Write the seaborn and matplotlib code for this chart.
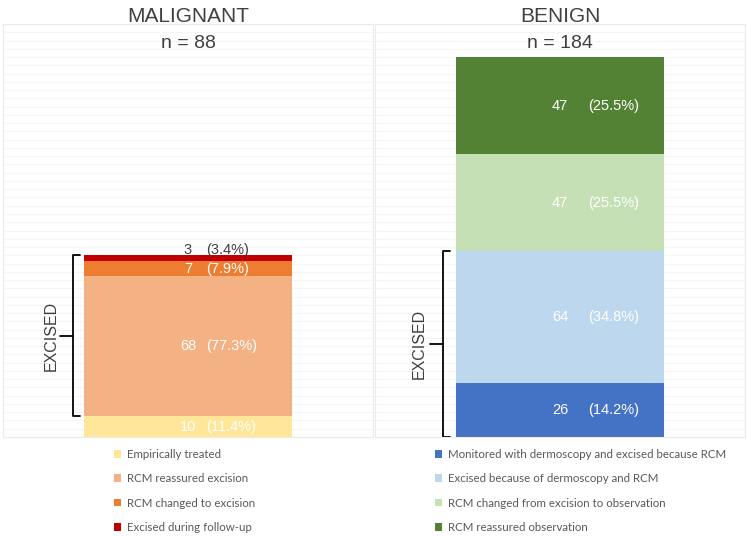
import matplotlib
matplotlib.use('Agg')
import matplotlib.pyplot as plt
from matplotlib.patches import Patch
import numpy as np
import pandas as pd
import seaborn as sns

sns.set_style('white')
plt.rcParams['font.family'] = ['Liberation Sans', 'DejaVu Sans']

# malignant, bottom to top
mal_labels = ['Empirically treated', 'RCM reassured excision',
              'RCM changed to excision', 'Excised during follow-up']
mal_counts = [10, 68, 7, 3]
mal_pct = ['(11.4%)', '(77.3%)', '(7.9%)', '(3.4%)']
mal_colors = ['#FFE699', '#F4B183', '#ED7D31', '#C00000']

# benign, bottom to top
ben_labels = ['Monitored with dermoscopy and excised because RCM',
              'Excised because of dermoscopy and RCM',
              'RCM changed from excision to observation',
              'RCM reassured observation']
ben_counts = [26, 64, 47, 47]
ben_pct = ['(14.2%)', '(34.8%)', '(25.5%)', '(25.5%)']
ben_colors = ['#4472C4', '#BDD7EE', '#C5E0B4', '#548235']

W, H = 747, 536
fig = plt.figure(figsize=(W / 100, H / 100), dpi=100)

ax_m = fig.add_axes([3 / W, 1 - 437 / H, 370 / W, 413 / H])
ax_b = fig.add_axes([375 / W, 1 - 437 / H, 370 / W, 413 / H])

txt_dark = '#404040'


def stacked(ax, counts, pct, colors, title, pct_dx, top_dark):
    cum = np.cumsum(counts)
    # draw cumulative bars from tallest to shortest so they stack
    for i in range(len(counts) - 1, -1, -1):
        df = pd.DataFrame({'g': [title], 'v': [cum[i]]})
        sns.barplot(data=df, x='g', y='v', color=colors[i], saturation=1,
                    width=0.56, ax=ax, zorder=2, edgecolor='none')
    ax.set_xlim(-0.5, 0.5)
    ax.set_ylim(0, 200)
    ax.set_yticks(np.arange(0, 201, 4))
    ax.yaxis.grid(True, color='#f5f5f5', lw=0.8, zorder=0)
    ax.set_axisbelow(True)
    ax.tick_params(left=False, bottom=False, labelleft=False, labelbottom=False)
    ax.set_xlabel('')
    ax.set_ylabel('')
    for s in ax.spines.values():
        s.set_color('#ebebeb')
        s.set_linewidth(0.8)

    bottoms = cum - np.array(counts)
    for i, (c, p) in enumerate(zip(counts, pct)):
        y = bottoms[i] + c / 2
        col = 'white'
        if top_dark and i == len(counts) - 1:
            y = cum[i] + 2.5
            col = txt_dark
        ax.text(0, y, str(c), ha='center', va='center', color=col, fontsize=10.5)
        ax.text(pct_dx, y, p, ha='left', va='center', color=col, fontsize=10.5)

    ax.text(0, 1.0 - 19 / 413, 'n = %d' % cum[-1], transform=ax.get_xaxis_transform(),
            ha='center', va='center', color=txt_dark, fontsize=14)
    ax.text(0, 1.0 + 8 / 413, title, transform=ax.get_xaxis_transform(),
            ha='center', va='center', color=txt_dark, fontsize=15, clip_on=False)
    return cum, bottoms


cum_m, bot_m = stacked(ax_m, mal_counts, mal_pct, mal_colors, 'MALIGNANT', 0.05, True)
cum_b, bot_b = stacked(ax_b, ben_counts, ben_pct, ben_colors, 'BENIGN', 0.075, False)


def bracket(ax, x, y0, y1, label, lx):
    tr = ax.get_yaxis_transform()
    hook = 0.02
    ym = (y0 + y1) / 2
    ax.plot([x + hook, x, x, x + hook], [y0, y0, y1, y1], color='black',
            lw=1.3, transform=tr, clip_on=False, solid_joinstyle='round')
    ax.plot([x, x - 0.035], [ym, ym], color='black', lw=1.3, transform=tr)
    ax.text(lx, ym, label, rotation=90, transform=tr, ha='center', va='center',
            color=txt_dark, fontsize=11.5)


# malignant excised = everything above the first segment
bracket(ax_m, 70 / 370, bot_m[1], cum_m[-1], 'EXCISED', 48 / 370)
# benign excised = first two segments
bracket(ax_b, 68 / 370, 0, cum_b[1], 'EXCISED', 44 / 370)

leg_font = {'family': ['Lato', 'DejaVu Sans'], 'size': 8.3}
for labels, colors, x0 in [(mal_labels, mal_colors, 114 / W), (ben_labels, ben_colors, 435 / W)]:
    handles = [Patch(facecolor=c, edgecolor='none') for c in colors]
    leg = fig.legend(handles, labels, loc='upper left', bbox_to_anchor=(x0, 1 - 449 / H),
                     frameon=False, prop=leg_font, handlelength=0.65, handleheight=0.65,
                     handletextpad=0.45, labelspacing=1.15, borderaxespad=0, borderpad=0)
    for t in leg.get_texts():
        t.set_color('#595959')

fig.savefig('out.png', dpi=100)
